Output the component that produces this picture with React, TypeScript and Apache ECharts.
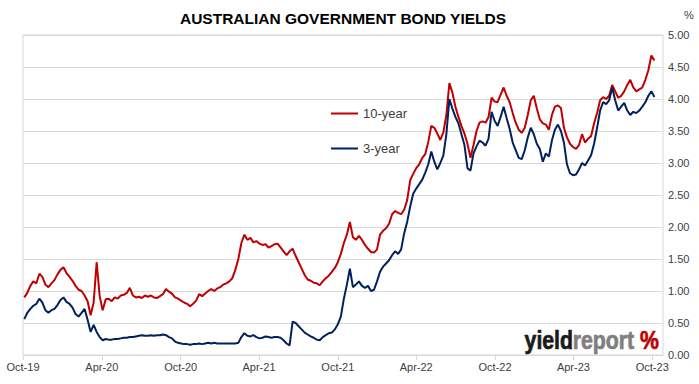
import React, { useEffect, useRef } from 'react';
import * as echarts from 'echarts';

const dates = [
"2019-10-04","2019-10-11","2019-10-18","2019-10-25","2019-11-01","2019-11-08","2019-11-15","2019-11-22","2019-11-29","2019-12-06",
"2019-12-13","2019-12-20","2019-12-27","2020-01-03","2020-01-10","2020-01-17","2020-01-24","2020-01-31","2020-02-07","2020-02-14",
"2020-02-21","2020-02-28","2020-03-06","2020-03-13","2020-03-20","2020-03-27","2020-04-03","2020-04-10","2020-04-17","2020-04-24",
"2020-05-01","2020-05-08","2020-05-15","2020-05-22","2020-05-29","2020-06-05","2020-06-12","2020-06-19","2020-06-26","2020-07-03",
"2020-07-10","2020-07-17","2020-07-24","2020-07-31","2020-08-07","2020-08-14","2020-08-21","2020-08-28","2020-09-04","2020-09-11",
"2020-09-18","2020-09-25","2020-10-02","2020-10-09","2020-10-16","2020-10-23","2020-10-30","2020-11-06","2020-11-13","2020-11-20",
"2020-11-27","2020-12-04","2020-12-11","2020-12-18","2020-12-25","2021-01-01","2021-01-08","2021-01-15","2021-01-22","2021-01-29",
"2021-02-05","2021-02-12","2021-02-19","2021-02-26","2021-03-05","2021-03-12","2021-03-19","2021-03-26","2021-04-02","2021-04-09",
"2021-04-16","2021-04-23","2021-04-30","2021-05-07","2021-05-14","2021-05-21","2021-05-28","2021-06-04","2021-06-11","2021-06-18",
"2021-06-25","2021-07-02","2021-07-09","2021-07-16","2021-07-23","2021-07-30","2021-08-06","2021-08-13","2021-08-20","2021-08-27",
"2021-09-03","2021-09-10","2021-09-17","2021-09-24","2021-10-01","2021-10-08","2021-10-15","2021-10-22","2021-10-29","2021-11-05",
"2021-11-12","2021-11-19","2021-11-26","2021-12-03","2021-12-10","2021-12-17","2021-12-24","2021-12-31","2022-01-07","2022-01-14",
"2022-01-21","2022-01-28","2022-02-04","2022-02-11","2022-02-18","2022-02-25","2022-03-04","2022-03-11","2022-03-18","2022-03-25",
"2022-04-01","2022-04-08","2022-04-15","2022-04-22","2022-04-29","2022-05-06","2022-05-13","2022-05-20","2022-05-27","2022-06-03",
"2022-06-10","2022-06-17","2022-06-24","2022-07-01","2022-07-08","2022-07-15","2022-07-22","2022-07-29","2022-08-05","2022-08-12",
"2022-08-19","2022-08-26","2022-09-02","2022-09-09","2022-09-16","2022-09-23","2022-09-30","2022-10-07","2022-10-14","2022-10-21",
"2022-10-28","2022-11-04","2022-11-11","2022-11-18","2022-11-25","2022-12-02","2022-12-09","2022-12-16","2022-12-23","2022-12-30",
"2023-01-06","2023-01-13","2023-01-20","2023-01-27","2023-02-03","2023-02-10","2023-02-17","2023-02-24","2023-03-03","2023-03-10",
"2023-03-17","2023-03-24","2023-03-31","2023-04-07","2023-04-14","2023-04-21","2023-04-28","2023-05-05","2023-05-12","2023-05-19",
"2023-05-26","2023-06-02","2023-06-09","2023-06-16","2023-06-23","2023-06-30","2023-07-07","2023-07-14","2023-07-21","2023-07-28",
"2023-08-04","2023-08-11","2023-08-18","2023-08-25","2023-09-01","2023-09-08","2023-09-15","2023-09-22","2023-09-29","2023-10-06"
];

const tenYear = [
0.90,0.97,1.08,1.15,1.12,1.27,1.22,1.10,1.06,1.12,
1.17,1.26,1.33,1.37,1.28,1.22,1.16,1.08,1.02,1.00,
0.93,0.84,0.62,0.82,1.45,0.92,0.70,0.87,0.88,0.84,
0.90,0.88,0.93,0.94,0.97,1.05,0.93,0.90,0.91,0.89,
0.93,0.91,0.93,0.90,0.89,0.92,0.95,1.03,0.99,0.96,
0.90,0.88,0.85,0.82,0.80,0.76,0.80,0.85,0.95,0.92,
0.96,1.00,1.03,1.00,1.04,1.06,1.10,1.12,1.15,1.20,
1.33,1.50,1.75,1.88,1.80,1.83,1.76,1.78,1.74,1.72,
1.73,1.68,1.70,1.73,1.74,1.68,1.62,1.56,1.62,1.66,
1.55,1.45,1.35,1.25,1.18,1.16,1.13,1.12,1.09,1.15,
1.20,1.24,1.30,1.36,1.45,1.58,1.75,1.88,2.08,1.84,
1.80,1.86,1.80,1.72,1.66,1.61,1.60,1.65,1.88,1.94,
1.98,2.05,2.20,2.25,2.22,2.20,2.27,2.42,2.73,2.83,
2.92,2.98,3.08,3.14,3.33,3.58,3.55,3.46,3.36,3.48,
3.75,4.25,4.10,3.88,3.72,3.58,3.46,3.30,3.08,3.28,
3.50,3.63,3.65,3.63,3.72,4.02,3.96,3.95,4.07,4.18,
4.05,3.95,3.78,3.63,3.52,3.47,3.55,3.75,3.98,4.05,
3.85,3.68,3.62,3.60,3.52,3.75,3.88,3.90,3.86,3.55,
3.40,3.30,3.25,3.22,3.28,3.45,3.32,3.38,3.42,3.62,
3.78,3.98,4.03,4.00,4.05,4.22,4.12,4.02,4.05,4.12,
4.22,4.30,4.18,4.12,4.15,4.18,4.30,4.45,4.68,4.60
];

const threeYear = [
0.56,0.66,0.72,0.77,0.80,0.88,0.82,0.70,0.66,0.70,
0.72,0.78,0.86,0.90,0.83,0.80,0.74,0.64,0.60,0.66,
0.72,0.55,0.36,0.47,0.36,0.28,0.23,0.25,0.24,0.24,
0.25,0.25,0.26,0.27,0.27,0.28,0.28,0.29,0.30,0.31,
0.30,0.30,0.31,0.30,0.31,0.31,0.32,0.31,0.28,0.26,
0.21,0.19,0.18,0.17,0.17,0.16,0.17,0.17,0.18,0.17,
0.18,0.19,0.18,0.19,0.18,0.18,0.18,0.18,0.18,0.18,
0.18,0.19,0.28,0.34,0.30,0.29,0.31,0.28,0.26,0.27,
0.29,0.28,0.27,0.28,0.28,0.27,0.23,0.18,0.15,0.52,
0.50,0.45,0.40,0.35,0.32,0.29,0.27,0.24,0.23,0.28,
0.31,0.34,0.35,0.40,0.48,0.60,0.88,1.10,1.35,1.06,
1.10,1.15,1.08,1.05,1.08,1.00,1.02,1.15,1.30,1.38,
1.43,1.48,1.56,1.62,1.58,1.65,1.90,2.08,2.32,2.52,
2.60,2.67,2.74,2.85,2.98,3.18,3.02,2.90,3.00,3.12,
3.45,4.00,3.85,3.72,3.62,3.45,3.28,2.92,2.88,3.15,
3.26,3.35,3.32,3.27,3.38,3.80,3.66,3.58,3.72,3.88,
3.70,3.53,3.32,3.20,3.08,3.06,3.20,3.40,3.55,3.45,
3.30,3.22,3.02,3.15,3.10,3.35,3.52,3.60,3.50,3.32,
2.98,2.84,2.81,2.82,2.90,3.00,2.96,3.04,3.12,3.30,
3.55,3.82,3.95,3.92,3.98,4.18,3.98,3.82,3.88,3.94,
3.82,3.75,3.80,3.78,3.82,3.88,3.95,4.05,4.12,4.03
];

const tickDates = ["2019-10-01","2020-04-01","2020-10-01","2021-04-01","2021-10-01","2022-04-01","2022-10-01","2023-04-01","2023-10-01"];
const tickLabels = ["Oct-19","Apr-20","Oct-20","Apr-21","Oct-21","Apr-22","Oct-22","Apr-23","Oct-23"];
const seriesNames = ["10-year", "3-year"];
const axisMin = "2019-10-01";
const axisMax = "2023-10-26";

const FONT = "'Liberation Sans', Arial, sans-serif";

function ts(d: string) {
  const [y, m, dd] = d.split('-').map(Number);
  return Date.UTC(y, m - 1, dd);
}

function markText(text: string, x: number, color: string) {
  return {
    type: 'text',
    x,
    y: 353,
    scaleX: 0.85,
    z: 10,
    style: {
      text,
      align: 'right',
      verticalAlign: 'bottom',
      fontFamily: FONT,
      fontSize: 25,
      fontWeight: 'bold',
      fill: color,
      stroke: color,
      lineWidth: 0.7,
    },
  };
}

export default function App() {
  const ref = useRef<HTMLDivElement>(null);
  useEffect(() => {
    const chart = echarts.init(ref.current!, null, { renderer: 'svg' });
    const tickTimes = tickDates.map(ts);
    const option: any = {
      animation: false,
      backgroundColor: '#ffffff',
      grid: { left: 23, right: 36, top: 35, bottom: 29, show: true, borderColor: '#d9d9d9', borderWidth: 1 },
      legend: {
        data: seriesNames,
        orient: 'vertical',
        left: 326,
        top: 102,
        icon: 'rect',
        itemWidth: 27,
        itemHeight: 2,
        itemGap: 22,
        textStyle: { fontFamily: FONT, fontSize: 13, color: '#404040' },
      },
      xAxis: {
        type: 'value',
        min: ts(axisMin),
        max: ts(axisMax),
        axisLine: { show: true, lineStyle: { color: '#d9d9d9', width: 1 } },
        axisTick: { show: true, customValues: tickTimes, length: 5, lineStyle: { color: '#d9d9d9' } },
        axisLabel: {
          customValues: tickTimes,
          fontFamily: FONT,
          fontSize: 11,
          color: '#404040',
          margin: 6,
          formatter: (v: number) => {
            let best = 0;
            let bd = Infinity;
            tickTimes.forEach((t, i) => {
              const d = Math.abs(t - v);
              if (d < bd) { bd = d; best = i; }
            });
            return tickLabels[best];
          },
        },
        splitLine: { show: false },
      },
      yAxis: {
        type: 'value',
        position: 'right',
        min: 0,
        max: 5,
        interval: 0.5,
        axisLine: { show: false },
        axisTick: { show: false },
        axisLabel: {
          fontFamily: FONT,
          fontSize: 11,
          color: '#404040',
          margin: 5,
          formatter: (v: number) => v.toFixed(2),
        },
        splitLine: { show: true, lineStyle: { color: '#d9d9d9', width: 1 } },
      },
      series: [
        {
          name: seriesNames[0],
          type: 'line',
          showSymbol: false,
          color: '#c00000',
          lineStyle: { width: 2, color: '#c00000' },
          data: dates.map((d, i) => [ts(d), tenYear[i]]),
          z: 2,
        },
        {
          name: seriesNames[1],
          type: 'line',
          showSymbol: false,
          color: '#002060',
          lineStyle: { width: 2, color: '#002060' },
          data: dates.map((d, i) => [ts(d), threeYear[i]]),
          z: 3,
        },
      ],
      graphic: [
        {
          type: 'text',
          x: 343,
          y: 18,
          style: {
            text: 'AUSTRALIAN GOVERNMENT BOND YIELDS',
            fontFamily: FONT,
            fontSize: 15.5,
            fontWeight: 'bold',
            fill: '#000000',
            align: 'center',
            verticalAlign: 'middle',
          },
        },
        {
          type: 'text',
          x: 689,
          y: 15,
          style: {
            text: '%',
            fontFamily: FONT,
            fontSize: 11,
            fill: '#404040',
            align: 'center',
            verticalAlign: 'middle',
          },
        },
        markText('yield', 573, '#1a1a1a'),
        markText('report', 634, '#7f7f7f'),
        markText('%', 659, '#c00000'),
      ],
    };
    chart.setOption(option);
    return () => chart.dispose();
  }, []);
  return <div ref={ref} style={{ position: 'absolute', left: 0, top: 0, width: 699, height: 384 }} />;
}
